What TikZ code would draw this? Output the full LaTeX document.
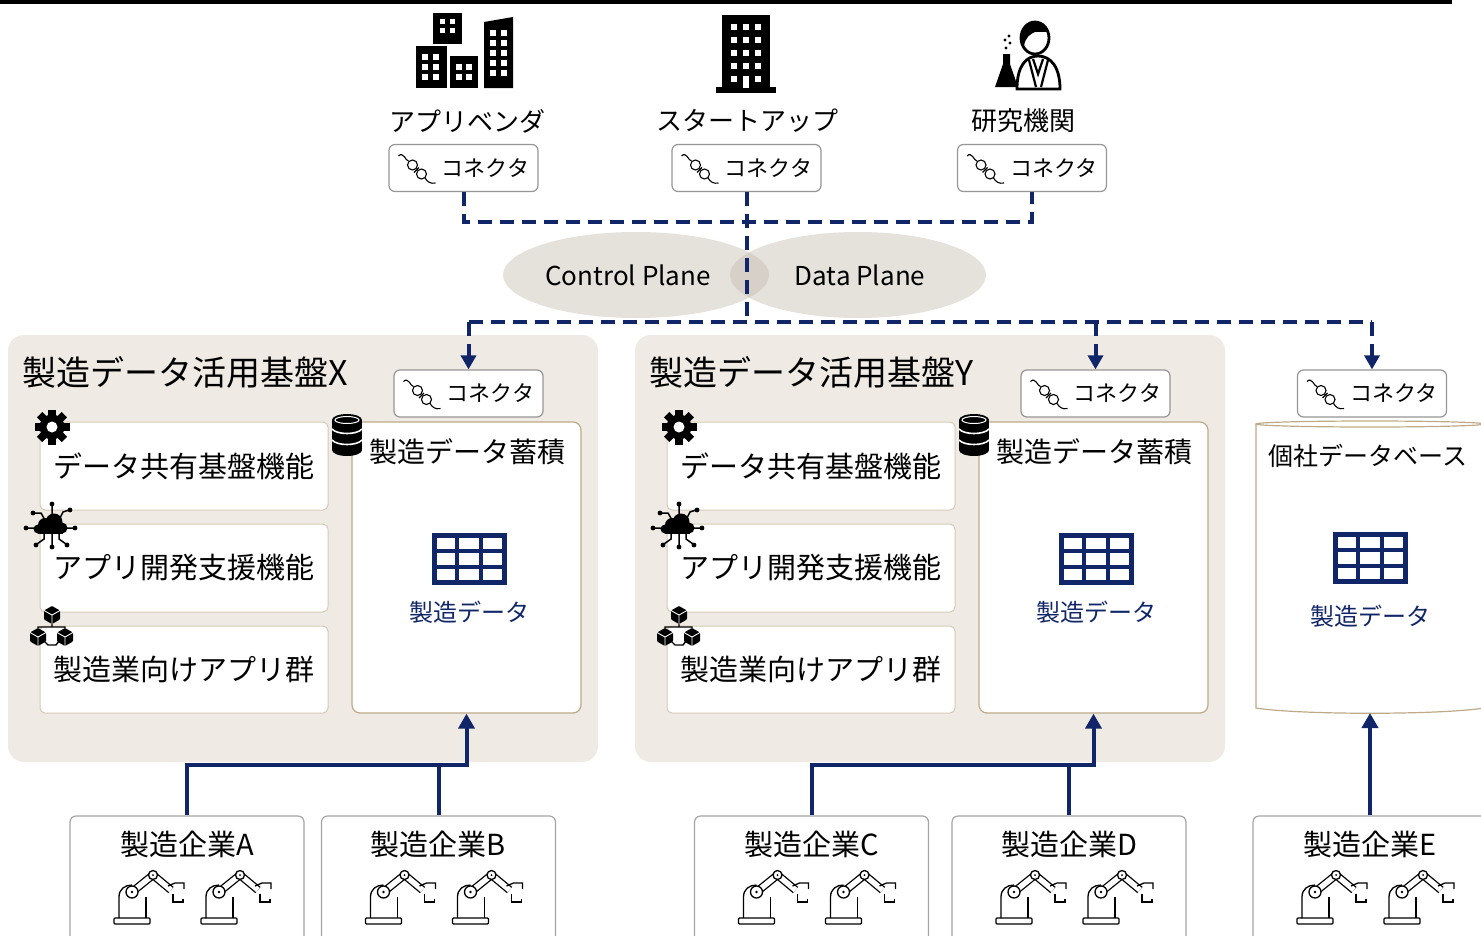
\documentclass[tikz,border=0pt]{standalone}
\usepackage{fontspec}
\setmainfont{Noto Sans CJK JP}
\usetikzlibrary{arrows.meta,shapes.geometric}

\definecolor{navyline}{RGB}{16,38,105}
\definecolor{pffill}{RGB}{239,235,228}
\definecolor{planefill}{RGB}{229,226,220}
\definecolor{planeover}{RGB}{214,208,201}
\definecolor{boxedge}{RGB}{214,202,182}
\definecolor{storeedge}{RGB}{190,170,136}
\definecolor{conngray}{RGB}{150,150,150}
\definecolor{compgray}{RGB}{165,165,165}

\newcommand{\jfs}[1]{\fontsize{#1}{#1}\selectfont}

\tikzset{
  toplabel/.style={font=\jfs{26}, inner sep=0pt},
  connbox/.style={draw=conngray, line width=1.2pt, rounded corners=6pt, fill=white, minimum width=149pt, minimum height=47pt},
  conntext/.style={font=\jfs{22}, inner sep=0pt},
  plane/.style={ellipse, fill=planefill, inner sep=0pt, font=\jfs{26}},
  platform/.style={fill=pffill, rounded corners=16pt, minimum width=590pt, minimum height=427pt, inner sep=0pt},
  pftitle/.style={font=\jfs{34}, inner sep=0pt, anchor=west},
  funcbox/.style={draw=boxedge, line width=1pt, fill=white, rounded corners=5pt, minimum width=288pt, minimum height=88pt, font=\jfs{29}},
  storebox/.style={draw=storeedge, line width=1.2pt, fill=white, rounded corners=8pt, minimum width=229pt, minimum height=291pt},
  storetitle/.style={font=\jfs{28}, inner sep=0pt},
  datatext/.style={font=\jfs{24}, text=navyline, inner sep=0pt},
  company/.style={draw=compgray, line width=1.2pt, fill=white, rounded corners=6pt, minimum width=234pt, minimum height=150pt},
  complabel/.style={font=\jfs{29}, inner sep=0pt},
  dashlink/.style={draw=navyline, line width=4pt, dash pattern=on 14pt off 8pt},
  flow/.style={draw=navyline, line width=4pt},
  % コネクタ(プラグ+文字)
  pics/plug/.style={code={
    \draw[line width=1.1pt] (-18,-12) .. controls (-13,-17) and (-11,-7) .. (-8,-7);
    \draw[line width=1.1pt] (-4,-3) circle (5pt);
    \draw[line width=1.1pt] (-0.5,2.5) -- (2.5,-0.5) (-2.5,4.5) -- (0.5,1.5);
    \draw[line width=1.1pt] (5,6) circle (5pt);
    \draw[line width=1.1pt] (8.5,10) .. controls (11,14) and (14,16) .. (19,15);
  }},
  pics/connector/.style={code={
    \node[connbox] (-box) at (0,0) {};
    \node[conntext] at (22,0) {コネクタ};
    \pic at (-47,0) {plug};
  }},
  % 歯車
  pics/gear/.style={code={
    \fill (0,0) circle (12.5pt);
    \foreach \a in {0,45,...,315} \fill[rotate=\a] (-3.8,9) rectangle (3.8,17.5);
    \fill[white] (0,0) circle (5.5pt);
  }},
  % データベース
  pics/dbstack/.style={code={
    \fill (-15,-15) rectangle (15,15);
    \fill (0,-15) ellipse (15pt and 6pt);
    \fill (0,15) ellipse (15pt and 6pt);
    \draw[white, line width=1pt] (0,-15) ellipse (12pt and 3.5pt);
    \draw[white, line width=1.6pt] (-15,-6) .. controls (-10,0) and (10,0) .. (15,-6);
    \draw[white, line width=1.6pt] (-15,5) .. controls (-10,11) and (10,11) .. (15,5);
  }},
  % 表アイコン
  pics/grid/.style={code={
    \draw[navyline, line width=5pt] (-35,-23.5) rectangle (35,23.5);
    \draw[navyline, line width=4pt] (-12,-23.5) -- (-12,23.5) (12,-23.5) -- (12,23.5)
      (-35,-8) -- (35,-8) (-35,8) -- (35,8);
  }},
  % クラウド+回路
  pics/cloudnet/.style={code={
    \draw[line width=1.5pt] (2,-8) -- (2,-20) (-5,-5) -- (-9,-12) -- (-16,-12)
      (9,-5) -- (13,-13) -- (19,-15) (-15,3) -- (-23,3) (16,3) -- (24,3)
      (-6,8) -- (-6,14) -- (-13,19) (2,8) -- (2,21) (9,8) -- (9,14) -- (16,19);
    \foreach \p in {(2,-21),(-17,-12),(20,-15),(-24,3),(25,3),(-14,20),(2,22),(17,20)}
      \fill \p circle (2.4pt);
    \fill (-5,0) circle (7pt); \fill (4,-3) circle (8.5pt); \fill (12,3) circle (5.5pt);
    \fill (-12,4) circle (4.5pt); \fill (-12,3) rectangle (13,8.5);
  }},
  % 立方体
  pics/cube/.style={code={
    \fill[rounded corners=1pt] (0,-9) -- (8,-4.5) -- (8,4.5) -- (0,9) -- (-8,4.5) -- (-8,-4.5) -- cycle;
    \draw[white, line width=0.9pt] (0,0) -- (0,9) (0,0) -- (-8,-4.5) (0,0) -- (8,-4.5);
  }},
  pics/cubes/.style={code={
    \draw[line width=1.4pt] (0,-6) -- (0,0) (-14,8) -- (-14,0) -- (13,0) -- (13,8)
      (-8,14) -- (-4,18) -- (4,18) -- (7,14);
    \pic at (0,-12) {cube}; \pic at (-14,10) {cube}; \pic at (13,10) {cube};
  }},
  % ビル群
  pics/buildings/.style={code={
    \fill (-32,-37) rectangle (-3,-6);
    \fill (-49,-4) rectangle (-18,38);
    \fill (-15,6) rectangle (13,38);
    \fill (19,-28) -- (48,-33) -- (48,38) -- (19,38) -- cycle;
    \foreach \x in {-25,-15} \foreach \y in {-31,-22} \fill[white] (\x,\y) rectangle +(5,5);
    \foreach \x in {-43,-32} \foreach \y in {4,14,24} \fill[white] (\x,\y) rectangle +(6,6);
    \foreach \x in {-9,1} \foreach \y in {14,24} \fill[white] (\x,\y) rectangle +(6,6);
    \foreach \x in {25,36} \foreach \y in {-20,-10,0,10,20} \fill[white] (\x,\y) rectangle +(6,6);
  }},
  % 高層ビル
  pics/tower/.style={code={
    \fill (-24,-37) rectangle (24,36);
    \fill (-30,35) rectangle (30,41);
    \foreach \x in {-15,-3,9} \foreach \y in {-28,-15,-2,11} \fill[white] (\x,\y) rectangle +(6,6);
    \fill[white] (-15,24) rectangle +(6,6); \fill[white] (9,24) rectangle +(6,6);
    \fill[white] (-3,24) rectangle +(6,12);
  }},
  % 研究者
  pics/scientist/.style={code={
    \filldraw[line width=2.8pt, fill=white] (-13,37) .. controls (-13,14) and (-4,4) .. (8,4)
      .. controls (20,4) and (30,14) .. (30,37) -- cycle;
    \draw[line width=2.2pt] (3,7) -- (8,22) -- (13,7) (-1,8) -- (6,35) (18,8) -- (11,35);
    \filldraw[line width=2.8pt, fill=white] (5,-14) ellipse (14pt and 16pt);
    \begin{scope}
      \clip (5,-14) ellipse (14pt and 16pt);
      \fill (-10,-32) rectangle (20,-20);
      \fill (-10,-21) -- (8,-21) .. controls (0,-19) and (-5,-14) .. (-6,-6) -- (-10,-6) -- cycle;
    \end{scope}
    \fill (-27,2) -- (-20,2) -- (-20,12) -- (-12,35) -- (-35,35) -- (-27,12) -- cycle;
    \foreach \p in {(-24,-4),(-20,-9),(-25,-12),(-21,-16)} \fill \p circle (1.7pt);
  }},
  % 産業用ロボット
  pics/robot/.style={code={
    \draw[line width=1.3pt, rounded corners=1pt] (-18,-3) rectangle (18,3);
    \draw[line width=1.3pt] (-13,-3) -- (-13,-24) .. controls (-13,-32) and (-7,-36) .. (0,-36);
    \draw[line width=1.3pt] (14,-3) -- (14,-24);
    \draw[line width=1.3pt, double=white, double distance=5.5pt] (0,-29) -- (21,-46);
    \draw[line width=1.3pt, double=white, double distance=5.5pt] (21,-46) -- (39,-31);
    \filldraw[line width=1.3pt, fill=white] (0,-29) circle (6pt);
    \fill (0,-29) circle (1.3pt);
    \filldraw[line width=1.3pt, fill=white] (21,-46) circle (4.5pt);
    \fill (21,-46) circle (1pt);
    \draw[line width=1.3pt] (36,-35) -- (43,-38) -- (52,-38) -- (52,-32);
    \draw[line width=1.3pt] (41,-27) -- (41,-19) -- (51,-19) -- (51,-22);
  }}
}

\begin{document}
\begin{tikzpicture}[x=1pt, y=-1pt, line join=miter]
  \useasboundingbox (0,0) rectangle (1481,935);
  \clip (0,0) rectangle (1481,935);

  \fill (0,0) rectangle (1452,3.5); % 上端の線

  % 参加者
  \pic at (465,50) {buildings};
  \pic at (746,52) {tower};
  \pic at (1030,52) {scientist};
  \node[toplabel] (vendor) at (467,121) {アプリベンダ};
  \node[toplabel] (startup) at (747,121) {スタートアップ};
  \node[toplabel] (lab) at (1023,121) {研究機関};
  \pic (cV) at (463.5,168) {connector};
  \pic (cS) at (746.5,168) {connector};
  \pic (cL) at (1032,168) {connector};

  % Control Plane / Data Plane
  \node[plane, minimum width=266pt, minimum height=86pt] (ctrl) at (636,275) {};
  \node[plane, minimum width=256pt, minimum height=86pt] (dplane) at (858,275) {};
  \begin{scope}
    \clip (ctrl.center) ellipse [x radius=133pt, y radius=43pt];
    \fill[planeover] (dplane.center) ellipse [x radius=128pt, y radius=43pt];
  \end{scope}
  \node[font=\jfs{26}, inner sep=0pt] (ctrltext) at (628,275) {Control Plane};
  \node[font=\jfs{26}, inner sep=0pt] (dtext) at (860,275) {Data Plane};

  % 製造データ活用基盤 X, Y
  \foreach \p/\dx in {X/0, Y/627} {
    \begin{scope}[xshift=\dx pt]
      \node[platform] (plat\p) at (303,548.5) {};
      \node[pftitle] (title\p) at (22,372) {製造データ活用基盤\p};
      \pic (c\p) at (468.5,393.5) {connector};
      \node[funcbox] (share\p) at (184,466) {データ共有基盤機能};
      \node[funcbox] (dev\p) at (184,568) {アプリ開発支援機能};
      \node[funcbox, minimum height=87pt] (app\p) at (184,669.5) {製造業向けアプリ群};
      \node[storebox] (store\p) at (466.5,567.5) {};
      \node[storetitle] (acc\p) at (467,452) {製造データ蓄積};
      \pic at (469,559) {grid};
      \node[datatext] (data\p) at (469,612) {製造データ};
      \pic at (52,427) {gear};
      \pic at (50,525) {cloudnet};
      \pic at (52,627) {cubes};
      \pic at (347,435) {dbstack};
    \end{scope}
  }

  % 個社データベース
  \pic (cE) at (1372,393.5) {connector};
  \filldraw[draw=storeedge, line width=1.2pt, fill=white] (1256,424) -- (1256,708)
    .. controls (1300,715) and (1440,715) .. (1484,708) -- (1484,424);
  \draw[storeedge, line width=1.2pt] (1370,424) ellipse (114pt and 3pt);
  \coordinate (dbE) at (1370,713);
  \node[storetitle, font=\jfs{25}] (dbtitle) at (1368,456) {個社データベース};
  \pic at (1370,558) {grid};
  \node[datatext] (dataE) at (1370,616) {製造データ};

  % 点線の接続
  \coordinate (hub) at (746.5,222);
  \coordinate (split) at (746.5,322);
  \draw[dashlink] (cV-box.south) |- (hub) -| (cL-box.south);
  \draw[dashlink] (cS-box.south) -- (split);
  \draw[dashlink] (cX-box.north |- split) -- (cE-box.north |- split);
  \foreach \c in {cX,cY,cE}
    \draw[dashlink, -{Triangle[length=14pt,width=15pt]}] (\c-box.north |- split) -- (\c-box.north);

  % 製造企業
  \foreach \nm/\cx/\lab in {coA/187/A, coB/438.5/B, coC/811.5/C, coD/1069/D, coE/1370/E} {
    \node[company] (\nm) at (\cx,891) {};
    \node[complabel] (\nm t) at (\cx,844) {製造企業\lab};
    \pic at (\cx-55,921) {robot};
    \pic at (\cx+32,921) {robot};
  }

  % データの流れ
  \coordinate (mX) at (466.5,765);
  \coordinate (mY) at (1093.5,765);
  \draw[flow, -{Triangle[length=15pt,width=16pt]}] (coA.north) |- (mX) -- (storeX.south);
  \draw[flow] (coB.north) -- (coB.north |- mX);
  \draw[flow, -{Triangle[length=15pt,width=16pt]}] (coC.north) |- (mY) -- (storeY.south);
  \draw[flow] (coD.north) -- (coD.north |- mY);
  \draw[flow, -{Triangle[length=15pt,width=16pt]}] (coE.north) -- (dbE);
\end{tikzpicture}
\end{document}
